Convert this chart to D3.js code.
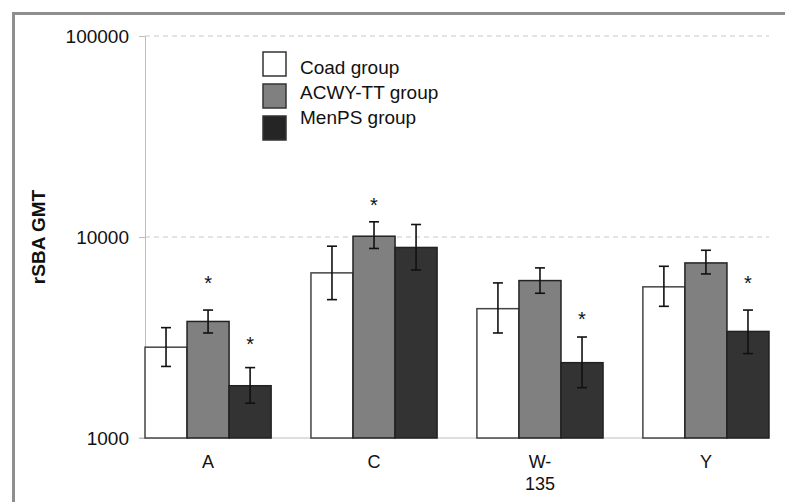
<!DOCTYPE html>
<html>
<head>
<meta charset="utf-8">
<script src="https://cdn.jsdelivr.net/npm/d3@7"></script>
<style>
html,body{margin:0;padding:0;background:#fff;}
svg{display:block;font-family:"Liberation Sans",Arial,Helvetica,sans-serif;}
</style>
</head>
<body>
<svg id="chart" width="785" height="502"></svg>
<script>
// ---- data ----
const categories = ["A", "C", "W-135", "Y"];
const categoryLines = [["A"], ["C"], ["W-", "135"], ["Y"]];
const seriesNames = ["Coad group", "ACWY-TT group", "MenPS group"];
const seriesColors = ["#ffffff", "#808080", "#333333"];
const coadGMT   = [2830, 6630, 4400, 5650];
const acwyGMT   = [3800, 10090, 6070, 7430];
const menpsGMT  = [1820, 8870, 2370, 3390];
const coadLow   = [2270, 4880, 3330, 4520];
const coadHigh  = [3540, 9000, 5910, 7150];
const acwyLow   = [3330, 8770, 5250, 6550];
const acwyHigh  = [4330, 11900, 7020, 8590];
const menpsLow  = [1490, 6860, 1780, 2630];
const menpsHigh = [2240, 11540, 3180, 4330];
// asterisk markers: [category index, series index, value level]
const asterisks = [[0, 1, 6200], [0, 2, 3080], [1, 1, 15100], [2, 2, 4100], [3, 2, 6200]];
const yTicks = [1000, 10000, 100000];
const yLabel = "rSBA GMT";

const values = [coadGMT, acwyGMT, menpsGMT];
const lows = [coadLow, acwyLow, menpsLow];
const highs = [coadHigh, acwyHigh, menpsHigh];

// ---- layout ----
const svg = d3.select("#chart");
const plotLeft = 145, plotRight = 769, plotTop = 36, plotBottom = 438;

// frame
svg.append("rect").attr("x", 13.5).attr("y", 13.5).attr("width", 800).attr("height", 520)
  .attr("fill", "none").attr("stroke", "#8e8e8e").attr("stroke-width", 3);

const y = d3.scaleLog().domain([1000, 100000]).range([plotBottom, plotTop]);
const x0 = d3.scaleBand().domain(categories).range([plotLeft, plotRight]).paddingInner(0.24).paddingOuter(0);
const x1 = d3.scaleBand().domain(d3.range(seriesNames.length)).range([0, x0.bandwidth()]).padding(0);

// gridlines
svg.append("g").selectAll("line").data(yTicks.filter(t => t > 1000)).join("line")
  .attr("x1", plotLeft).attr("x2", plotRight).attr("y1", d => y(d)).attr("y2", d => y(d))
  .attr("stroke", "#c8c8c8").attr("stroke-dasharray", "5,4").attr("stroke-width", 1);

// y axis
const yAxis = d3.axisLeft(y).tickValues(yTicks).tickFormat(d3.format("d")).tickSize(6).tickPadding(10);
const gy = svg.append("g").attr("transform", `translate(${plotLeft},0)`).call(yAxis);
gy.select(".domain").attr("stroke", "#bdbdbd");
gy.selectAll(".tick line").attr("stroke", "#bdbdbd");
gy.selectAll(".tick text").attr("font-size", 19).attr("fill", "#111").attr("font-family", "Liberation Sans, Arial, sans-serif");

// baseline
svg.append("line").attr("x1", plotLeft - 6).attr("x2", plotRight).attr("y1", plotBottom).attr("y2", plotBottom)
  .attr("stroke", "#bdbdbd").attr("stroke-width", 1);

// bars
const groups = svg.append("g").selectAll("g").data(categories).join("g")
  .attr("transform", d => `translate(${x0(d)},0)`);

groups.each(function(cat, ci) {
  const g = d3.select(this);
  seriesNames.forEach((s, si) => {
    const v = values[si][ci];
    g.append("rect")
      .attr("x", x1(si)).attr("width", x1.bandwidth())
      .attr("y", y(v)).attr("height", y(1000) - y(v))
      .attr("fill", seriesColors[si]).attr("stroke", si === 0 ? "#444" : "#222").attr("stroke-width", 1.5);
  });
  seriesNames.forEach((s, si) => {
    const cx = x1(si) + x1.bandwidth() / 2;
    const lo = y(lows[si][ci]), hi = y(highs[si][ci]);
    g.append("line").attr("x1", cx).attr("x2", cx).attr("y1", lo).attr("y2", hi).attr("stroke", "#111").attr("stroke-width", 1.6);
    g.append("line").attr("x1", cx - 5).attr("x2", cx + 5).attr("y1", lo).attr("y2", lo).attr("stroke", "#111").attr("stroke-width", 1.6);
    g.append("line").attr("x1", cx - 5).attr("x2", cx + 5).attr("y1", hi).attr("y2", hi).attr("stroke", "#111").attr("stroke-width", 1.6);
  });
});

// asterisks
svg.append("g").selectAll("text").data(asterisks).join("text")
  .attr("x", d => x0(categories[d[0]]) + x1(d[1]) + x1.bandwidth() / 2)
  .attr("y", d => y(d[2]) + 11)
  .attr("text-anchor", "middle").attr("font-size", 20).attr("fill", "#111")
  .text("*");

// x labels
categories.forEach((c, i) => {
  const t = svg.append("text").attr("x", x0(c) + x0.bandwidth() / 2).attr("y", 468)
    .attr("text-anchor", "middle").attr("font-size", 18).attr("fill", "#111");
  categoryLines[i].forEach((line, li) => {
    t.append("tspan").attr("x", x0(c) + x0.bandwidth() / 2).attr("dy", li === 0 ? 0 : 22).text(line);
  });
});

// y label
svg.append("text").attr("transform", `translate(45,237) rotate(-90)`)
  .attr("text-anchor", "middle").attr("font-size", 19).attr("font-weight", "bold").attr("fill", "#111")
  .text(yLabel);

// legend
const legend = svg.append("g");
seriesNames.forEach((s, i) => {
  legend.append("rect").attr("x", 263).attr("y", 52 + i * 32).attr("width", 23).attr("height", 24)
    .attr("fill", i === 2 ? "#252525" : seriesColors[i]).attr("stroke", "#333").attr("stroke-width", 1.5);
  legend.append("text").attr("x", 300).attr("y", 74 + i * 25).attr("font-size", 19).attr("fill", "#111").text(s);
});
</script>
</body>
</html>
